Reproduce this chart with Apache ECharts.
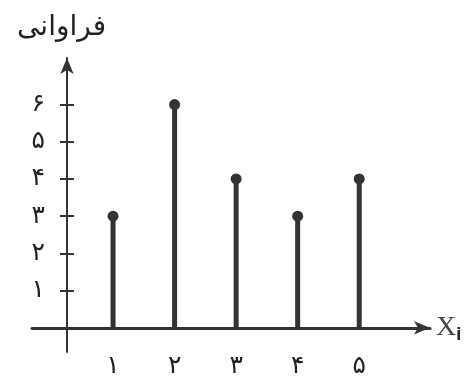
<!DOCTYPE html>
<html>
<head>
<meta charset="utf-8">
<script src="https://cdn.jsdelivr.net/npm/echarts@6/dist/echarts.min.js"></script>
<style>
  html, body { margin: 0; padding: 0; background: #fff; }
  #chart { width: 472px; height: 379px; }
</style>
</head>
<body>
<div id="chart"></div>
<script>
// داده‌ها
var xValues = [1, 2, 3, 4, 5];
var freqValues = [3, 6, 4, 3, 4];
var yTicks = [1, 2, 3, 4, 5, 6];
var persianDigits = ['۰', '۱', '۲', '۳', '۴', '۵', '۶', '۷', '۸', '۹'];
var yTitle = 'فراوانی';

var ink = '#333';
var fontFa = '"DejaVu Sans", sans-serif';

function toFa(v) {
  return String(v).replace(/\d/g, function (d) { return persianDigits[+d]; });
}

var points = xValues.map(function (x, i) { return [x, freqValues[i]]; });

var chart = echarts.init(document.getElementById('chart'));
chart.setOption({
  animation: false,
  grid: { left: 32, right: 42, top: 58, bottom: 27, outerBoundsMode: 'none', containLabel: false },
  title: {
    text: yTitle,
    left: 12,
    top: 9,
    textStyle: { fontFamily: fontFa, fontSize: 28, fontWeight: 'normal', color: '#222' }
  },
  xAxis: {
    type: 'value',
    min: -0.317,
    max: 6.15,
    axisLine: {
      onZero: true,
      symbol: ['none', 'arrow'],
      symbolSize: [10, 16],
      lineStyle: { color: ink, width: 3 }
    },
    axisTick: { show: false },
    splitLine: { show: false },
    axisLabel: {
      customValues: xValues,
      formatter: toFa,
      fontFamily: fontFa,
      fontSize: 25,
      color: '#222',
      margin: 2
    },
    name: 'X{s|i}',
    nameLocation: 'end',
    nameGap: 6,
    nameTextStyle: {
      fontFamily: '"Liberation Serif", serif',
      fontSize: 28,
      color: '#444',
      rich: { s: { fontFamily: '"Liberation Sans", sans-serif', fontSize: 18, fontWeight: 'bold', color: '#222', verticalAlign: 'bottom', padding: [14, 0, 0, 0] } }
    }
  },
  yAxis: [{
    type: 'value',
    position: 'left',
    min: -0.65,
    max: 7.25,
    offset: -35,
    axisLine: {
      show: true,
      onZero: false,
      symbol: ['none', 'arrow'],
      symbolSize: [10, 16],
      lineStyle: { color: ink, width: 2 }
    },
    axisTick: { show: true, customValues: yTicks, length: 7, lineStyle: { color: ink, width: 2 } },
    splitLine: { show: false },
    axisLabel: {
      customValues: yTicks,
      formatter: toFa,
      fontFamily: fontFa,
      fontSize: 25,
      color: '#222',
      margin: 22
    }
  }, {
    type: 'value',
    position: 'left',
    min: -0.65,
    max: 7.25,
    offset: -35,
    axisLine: { show: false, onZero: false },
    axisTick: { show: true, inside: true, customValues: yTicks, length: 7, lineStyle: { color: ink, width: 2 } },
    splitLine: { show: false },
    axisLabel: { show: false }
  }],
  series: [
    {
      type: 'bar',
      data: points,
      barWidth: 5,
      itemStyle: { color: ink }
    },
    {
      type: 'scatter',
      data: points,
      symbol: 'circle',
      symbolSize: 11,
      itemStyle: { color: ink, opacity: 1 }
    }
  ]
});
</script>
</body>
</html>
